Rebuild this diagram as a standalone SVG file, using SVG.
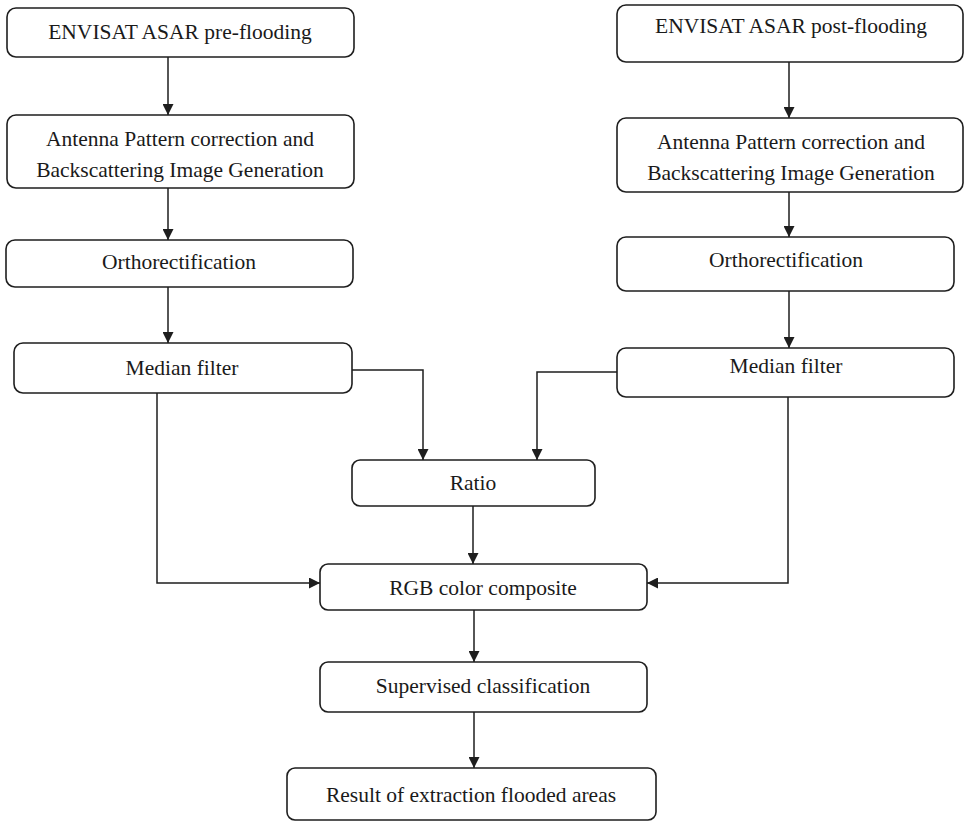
<svg xmlns="http://www.w3.org/2000/svg" width="966" height="822" viewBox="0 0 966 822">
<style>
.box{fill:#fff;stroke:#1e1e1e;stroke-width:1.6}
.t{font-family:"Liberation Serif","Times New Roman",serif;font-size:21.5px;fill:#1a1a1a;text-anchor:middle}
.c{fill:none;stroke:#1e1e1e;stroke-width:1.5}
</style>
<defs>
<marker id="ah" viewBox="0 0 10 10" refX="10" refY="5" markerWidth="11" markerHeight="11" markerUnits="userSpaceOnUse" orient="auto">
<path d="M0,0 L10,5 L0,10 z" fill="#1e1e1e"/>
</marker>
</defs>
<rect width="966" height="822" fill="#fff"/>
<g id="connectors">
<path class="c" marker-end="url(#ah)" d="M168,57 V115"/>
<path class="c" marker-end="url(#ah)" d="M168,188 V240"/>
<path class="c" marker-end="url(#ah)" d="M168,287 V343"/>
<path class="c" marker-end="url(#ah)" d="M789,62 V118"/>
<path class="c" marker-end="url(#ah)" d="M789,192 V237"/>
<path class="c" marker-end="url(#ah)" d="M789,291 V348"/>
<path class="c" marker-end="url(#ah)" d="M352,370 H423 V460"/>
<path class="c" marker-end="url(#ah)" d="M617,372 H537 V460"/>
<path class="c" marker-end="url(#ah)" d="M473,506 V564"/>
<path class="c" marker-end="url(#ah)" d="M157,393 V583 H320"/>
<path class="c" marker-end="url(#ah)" d="M788,397 V583 H647"/>
<path class="c" marker-end="url(#ah)" d="M474,610 V662"/>
<path class="c" marker-end="url(#ah)" d="M474,712 V768"/>
</g>
<g id="pre">
<rect class="box" x="7" y="8" width="347" height="49" rx="9"/>
<text class="t" x="180" y="39">ENVISAT ASAR pre-flooding</text>
</g>
<g id="antenna-left">
<rect class="box" x="7" y="115" width="347" height="73" rx="9"/>
<text class="t" x="180" y="146">Antenna Pattern correction and</text>
<text class="t" x="180" y="177">Backscattering Image Generation</text>
</g>
<g id="ortho-left">
<rect class="box" x="6" y="240" width="347" height="47" rx="9"/>
<text class="t" x="179" y="269">Orthorectification</text>
</g>
<g id="median-left">
<rect class="box" x="14" y="343" width="338" height="50" rx="9"/>
<text class="t" x="182" y="375">Median filter</text>
</g>
<g id="post">
<rect class="box" x="617" y="5" width="346" height="57" rx="9"/>
<text class="t" x="791" y="33">ENVISAT ASAR post-flooding</text>
</g>
<g id="antenna-right">
<rect class="box" x="617" y="118" width="346" height="74" rx="9"/>
<text class="t" x="791" y="149">Antenna Pattern correction and</text>
<text class="t" x="791" y="180">Backscattering Image Generation</text>
</g>
<g id="ortho-right">
<rect class="box" x="617" y="237" width="337" height="54" rx="9"/>
<text class="t" x="786" y="267">Orthorectification</text>
</g>
<g id="median-right">
<rect class="box" x="617" y="348" width="337" height="49" rx="9"/>
<text class="t" x="786" y="373">Median filter</text>
</g>
<g id="ratio">
<rect class="box" x="352" y="460" width="243" height="46" rx="8"/>
<text class="t" x="473" y="490">Ratio</text>
</g>
<g id="rgb">
<rect class="box" x="320" y="564" width="327" height="46" rx="8"/>
<text class="t" x="483" y="595">RGB color composite</text>
</g>
<g id="supervised">
<rect class="box" x="320" y="662" width="327" height="50" rx="8"/>
<text class="t" x="483" y="693">Supervised classification</text>
</g>
<g id="result">
<rect class="box" x="287" y="768" width="369" height="52" rx="8"/>
<text class="t" x="471" y="802">Result of extraction flooded areas</text>
</g>
</svg>
